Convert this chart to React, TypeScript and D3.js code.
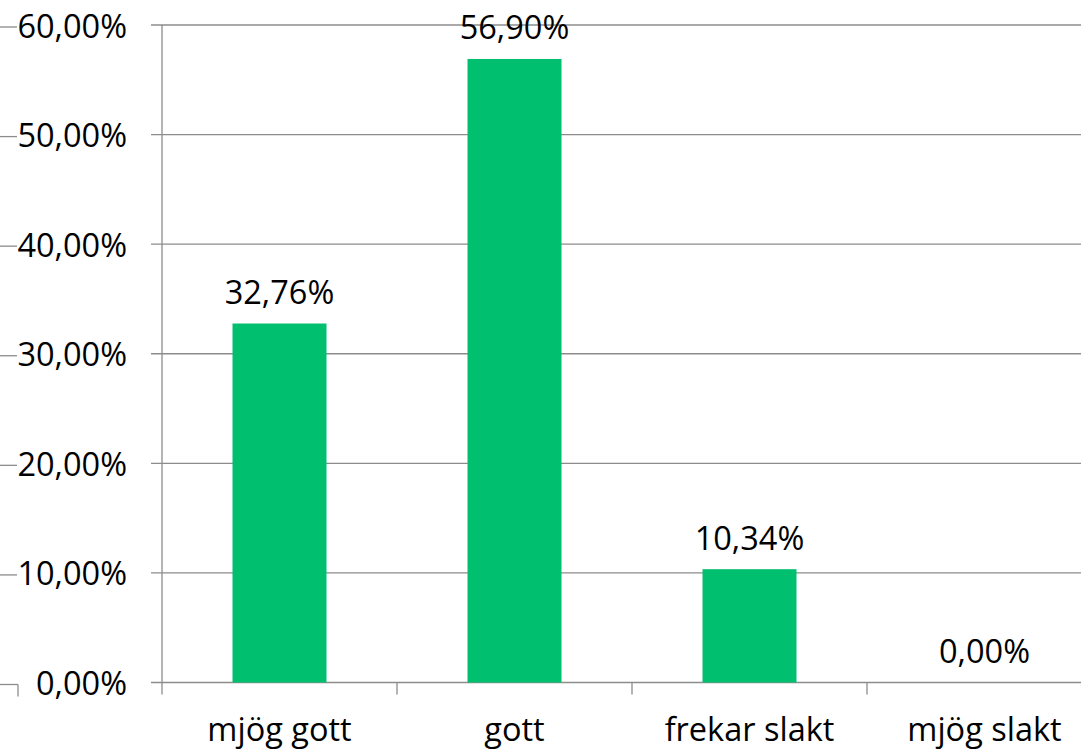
import React from "react";
import * as d3 from "d3";

const categories = ["mjög gott", "gott", "frekar slakt", "mjög slakt"];
const values = [32.76, 56.9, 10.34, 0.0];
const yTicks = [0, 10, 20, 30, 40, 50, 60];

const W = 1081;
const H = 753;
const FONT = "'Open Sans', 'Noto Sans', sans-serif";
const FS = 32.5;

const fmt = (v: number) => v.toFixed(2).replace(".", ",") + "%";

export default function App() {
  const x = d3.scaleBand<string>().domain(categories).range([162, 1102]).paddingInner(0.6).paddingOuter(0.3);
  const y = d3.scaleLinear().domain([0, 60]).range([682.5, 25]);
  const step = x.step();
  const x0 = 162;

  return (
    <div style={{ position: "absolute", left: 0, top: 0 }}>
      <svg width={W} height={H} style={{ display: "block", background: "#fff" }}>
        {yTicks.map((t) => (
          <g key={t}>
            <line x1={151} x2={W} y1={y(t)} y2={y(t)} stroke="#8c8c8c" strokeWidth={1.3} />
            <line x1={0} x2={t === 0 ? 18 : 17} y1={y(t) + 2} y2={y(t) + 2} stroke="#8c8c8c" strokeWidth={1.3} />
            <text x={127} y={y(t)} textAnchor="end" dominantBaseline="central" fontFamily={FONT} fontSize={FS} fill="#000">
              {fmt(t)}
            </text>
          </g>
        ))}
        <line x1={18} x2={18} y1={y(0) + 2} y2={y(0) + 14} stroke="#8c8c8c" strokeWidth={1.3} />
        <line x1={x0} x2={x0} y1={y(60)} y2={y(0) + 12} stroke="#8c8c8c" strokeWidth={1.3} />
        {categories.map((c, i) => (
          <line key={c} x1={x0 + step * (i + 1)} x2={x0 + step * (i + 1)} y1={y(0)} y2={y(0) + 12} stroke="#8c8c8c" strokeWidth={1.3} />
        ))}
        {categories.map((c, i) => (
          <g key={c}>
            <rect x={x(c)} y={y(values[i])} width={x.bandwidth()} height={y(0) - y(values[i])} fill="#00bf6f" />
            <text x={(x(c) as number) + x.bandwidth() / 2} y={y(values[i]) - 32} textAnchor="middle" dominantBaseline="central" fontFamily={FONT} fontSize={FS} fill="#000">
              {fmt(values[i])}
            </text>
            <text x={(x(c) as number) + x.bandwidth() / 2} y={728} textAnchor="middle" dominantBaseline="central" fontFamily={FONT} fontSize={FS} fill="#000">
              {c}
            </text>
          </g>
        ))}
      </svg>
    </div>
  );
}
